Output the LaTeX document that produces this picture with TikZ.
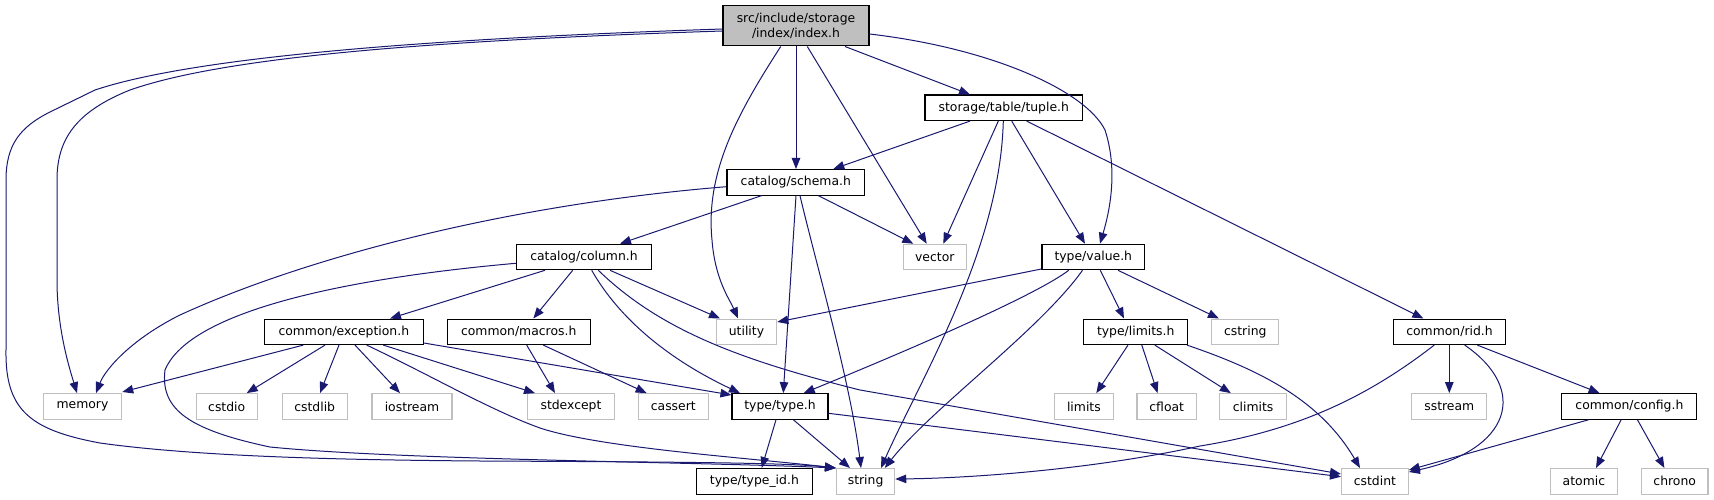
\documentclass[tikz,border=0pt]{standalone}
\usepackage{fontspec}
\setmainfont{DejaVu Sans}
\usetikzlibrary{arrows.meta}
\definecolor{edgeblue}{HTML}{191970}
\definecolor{sysgray}{HTML}{BFBFBF}
\definecolor{rootfill}{HTML}{BFBFBF}
\begin{document}
\begin{tikzpicture}[x=1pt,y=-1pt,
  hdr/.style={draw=black, line width=1.1pt, fill=white, inner sep=0pt, align=center,
    minimum height=25.5pt, font=\fontsize{12.4}{14.2}\selectfont},
  sys/.style={hdr, draw=sysgray},
  root/.style={hdr, fill=rootfill, minimum height=40.3pt},
  e/.style={draw=edgeblue, line width=1pt, -{Triangle[length=11pt,width=8.5pt]}}]
\useasboundingbox (0,0) rectangle (1714,500);
% nodes
\node[root, minimum width=146pt] (index) at (796,25.8) {src/include/storage\\/index/index.h};
\node[hdr, minimum width=157.7pt] (tuple) at (1003.8,107.8) {storage/table/tuple.h};
\node[hdr, minimum width=137.7pt] (schema) at (795.8,182.3) {catalog/schema.h};
\node[sys, minimum width=63pt] (vector) at (934.8,257) {vector};
\node[hdr, minimum width=102.7pt] (value) at (1093.3,257) {type/value.h};
\node[hdr, minimum width=135.4pt] (column) at (584,257) {catalog/column.h};
\node[hdr, minimum width=159pt] (exception) at (343.8,331.8) {common/exception.h};
\node[hdr, minimum width=143.3pt] (macros) at (518.7,331.8) {common/macros.h};
\node[sys, minimum width=60.4pt] (utility) at (746.5,331.8) {utility};
\node[hdr, minimum width=104pt] (limitsh) at (1135.7,331.8) {type/limits.h};
\node[sys, minimum width=66.8pt] (cstring) at (1245.3,331.8) {cstring};
\node[hdr, minimum width=112pt] (rid) at (1449.5,331.8) {common/rid.h};
\node[sys, minimum width=78.4pt] (memory) at (82.5,406.4) {memory};
\node[sys, minimum width=61.3pt] (cstdio) at (226.7,406.4) {cstdio};
\node[sys, minimum width=65.3pt] (cstdlib) at (314.7,406.4) {cstdlib};
\node[sys, minimum width=80pt] (iostream) at (412,406.4) {iostream};
\node[sys, minimum width=86.6pt] (stdexcept) at (571,406.4) {stdexcept};
\node[sys, minimum width=70pt] (cassert) at (673.3,406.4) {cassert};
\node[hdr, minimum width=96pt] (type) at (780,406.4) {type/type.h};
\node[sys, minimum width=59pt] (limits) at (1083.9,406.4) {limits};
\node[sys, minimum width=59.4pt] (cfloat) at (1166.7,406.4) {cfloat};
\node[sys, minimum width=66.8pt] (climits) at (1253.1,406.4) {climits};
\node[sys, minimum width=74.8pt] (sstream) at (1449.3,406.4) {sstream};
\node[hdr, minimum width=135pt] (config) at (1629.4,406.4) {common/config.h};
\node[hdr, minimum width=115.3pt] (typeid) at (754.4,481.3) {type/type\_id.h};
\node[sys, minimum width=58.2pt] (string) at (865.6,481.3) {string};
\node[sys, minimum width=66.8pt] (cstdint) at (1374.9,481.3) {cstdint};
\node[sys, minimum width=67pt] (atomic) at (1583.9,481.3) {atomic};
\node[sys, minimum width=66.5pt] (chrono) at (1674.7,481.3) {chrono};
% index.h
\draw[e] (index.west |- 0,29) .. controls (450,38) and (200,55) .. (95,90) -- (50,112)
  .. controls (20,127) and (6,145) .. (6,180) -- (6,350)
  .. controls (5,410) and (30,430) .. (100,443) .. controls (200,457) and (350,460) .. (480,461)
  .. controls (700,462) and (790,463) .. (string.north west);
\draw[e] (index.west |- 0,31) .. controls (450,40) and (230,55) .. (130,90)
  .. controls (75,112) and (57,140) .. (57,180) -- (57,280)
  .. controls (57,330) and (70,370) .. (77,0 |- memory.north);
\draw[e] (780.7,0 |- index.south) .. controls (740,110) and (705,170) .. (712,240)
  .. controls (715,280) and (730,300) .. (738,0 |- utility.north);
\draw[e] (796,0 |- index.south) -- (796,0 |- schema.north);
\draw[e] (807.3,0 |- index.south) -- (926.7,0 |- vector.north);
\draw[e] (845,0 |- index.south) -- (970,0 |- tuple.north);
\draw[e] (index.east |- 0,34) .. controls (990,48) and (1085,90) .. (1105,130)
  .. controls (1118,170) and (1110,210) .. (1100,0 |- value.north);
% tuple.h
\draw[e] (970,0 |- tuple.south) -- (833.3,0 |- schema.north);
\draw[e] (998.3,0 |- tuple.south) -- (943.3,0 |- vector.north);
\draw[e] (1003.3,0 |- tuple.south) .. controls (1000,250) and (920,380) .. (881,0 |- string.north);
\draw[e] (1011.7,0 |- tuple.south) -- (1085,0 |- value.north);
\draw[e] (1026.7,0 |- tuple.south) -- (1423.4,0 |- rid.north);
% schema.h
\draw[e] (schema.west |- 0,186.7) .. controls (500,205) and (300,260) .. (180,315)
  .. controls (130,340) and (105,370) .. (96,0 |- memory.north);
\draw[e] (761.7,0 |- schema.south) -- (620,0 |- column.north);
\draw[e] (796,0 |- schema.south) -- (783.3,0 |- type.north);
\draw[e] (800,0 |- schema.south) .. controls (815,260) and (850,380) .. (861,0 |- string.north);
\draw[e] (818.3,0 |- schema.south) -- (913.3,0 |- vector.north);
% column.h
\draw[e] (column.west |- 0,263.3) .. controls (350,278) and (190,310) .. (165,370)
  .. controls (160,410) and (190,430) .. (270,447)
  .. controls (400,460) and (700,462) .. (string.north west);
\draw[e] (545,0 |- column.south) -- (390,0 |- exception.north);
\draw[e] (572.7,0 |- column.south) -- (533.3,0 |- macros.north);
\draw[e] (610,0 |- column.south) -- (720,0 |- utility.north);
\draw[e] (591.7,0 |- column.south) .. controls (620,320) and (670,360) .. (740,0 |- type.north);
\draw[e] (598.3,0 |- column.south) .. controls (660,330) and (740,360) .. (860,390)
  -- (cstdint.west |- 0,474);
% exception.h
\draw[e] (303.3,0 |- exception.south) -- (memory.east |- 0,392);
\draw[e] (325,0 |- exception.south) -- (246.7,0 |- cstdio.north);
\draw[e] (339,0 |- exception.south) -- (320,0 |- cstdlib.north);
\draw[e] (355,0 |- exception.south) -- (400,0 |- iostream.north);
\draw[e] (383.3,0 |- exception.south) -- (535,0 |- stdexcept.north);
\draw[e] (366.7,0 |- exception.south) .. controls (430,375) and (490,410) .. (540,428)
  .. controls (600,448) and (750,458) .. (string.north west);
\draw[e] (exception.east |- 0,343) -- (type.west |- 0,395);
% macros.h
\draw[e] (526.7,0 |- macros.south) -- (555,0 |- stdexcept.north);
\draw[e] (543.3,0 |- macros.south) -- (646.7,0 |- cassert.north);
% value.h
\draw[e] (value.west |- 0,269) -- (utility.east |- 0,322);
\draw[e] (1068.7,0 |- value.south) .. controls (1030,300) and (860,370) .. (803.7,0 |- type.north);
\draw[e] (1082.5,0 |- value.south) .. controls (1040,330) and (930,410) .. (884.8,0 |- string.north);
\draw[e] (1100.3,0 |- value.south) -- (1124,0 |- limitsh.north);
\draw[e] (1118,0 |- value.south) -- (1218.9,0 |- cstring.north);
% type.h
\draw[e] (776,0 |- type.south) -- (761.7,0 |- typeid.north);
\draw[e] (793.3,0 |- type.south) -- (850,0 |- string.north);
\draw[e] (type.east |- 0,413.3) -- (cstdint.west |- 0,476.7);
% limits.h
\draw[e] (1128,0 |- limitsh.south) -- (1096.3,0 |- limits.north);
\draw[e] (1141.8,0 |- limitsh.south) -- (1157.6,0 |- cfloat.north);
\draw[e] (1154.8,0 |- limitsh.south) -- (1230.8,0 |- climits.north);
\draw[e] (1187,0 |- limitsh.south) .. controls (1260,370) and (1320,400) .. (1360,0 |- cstdint.north);
% rid.h
\draw[e] (1434.2,0 |- rid.south) .. controls (1370,395) and (1300,430) .. (1200,446)
  .. controls (1100,468) and (980,478) .. (string.east |- 0,479);
\draw[e] (1449.3,0 |- rid.south) -- (1449.3,0 |- sstream.north);
\draw[e] (1464.7,0 |- rid.south) .. controls (1530,390) and (1510,450) .. (cstdint.east |- 0,472);
\draw[e] (1477.3,0 |- rid.south) -- (1599.6,0 |- config.north);
% config.h
\draw[e] (1588.8,0 |- config.south) -- (cstdint.east |- 0,470);
\draw[e] (1621.2,0 |- config.south) -- (1596,0 |- atomic.north);
\draw[e] (1637.4,0 |- config.south) -- (1664.4,0 |- chrono.north);
\end{tikzpicture}
\end{document}
